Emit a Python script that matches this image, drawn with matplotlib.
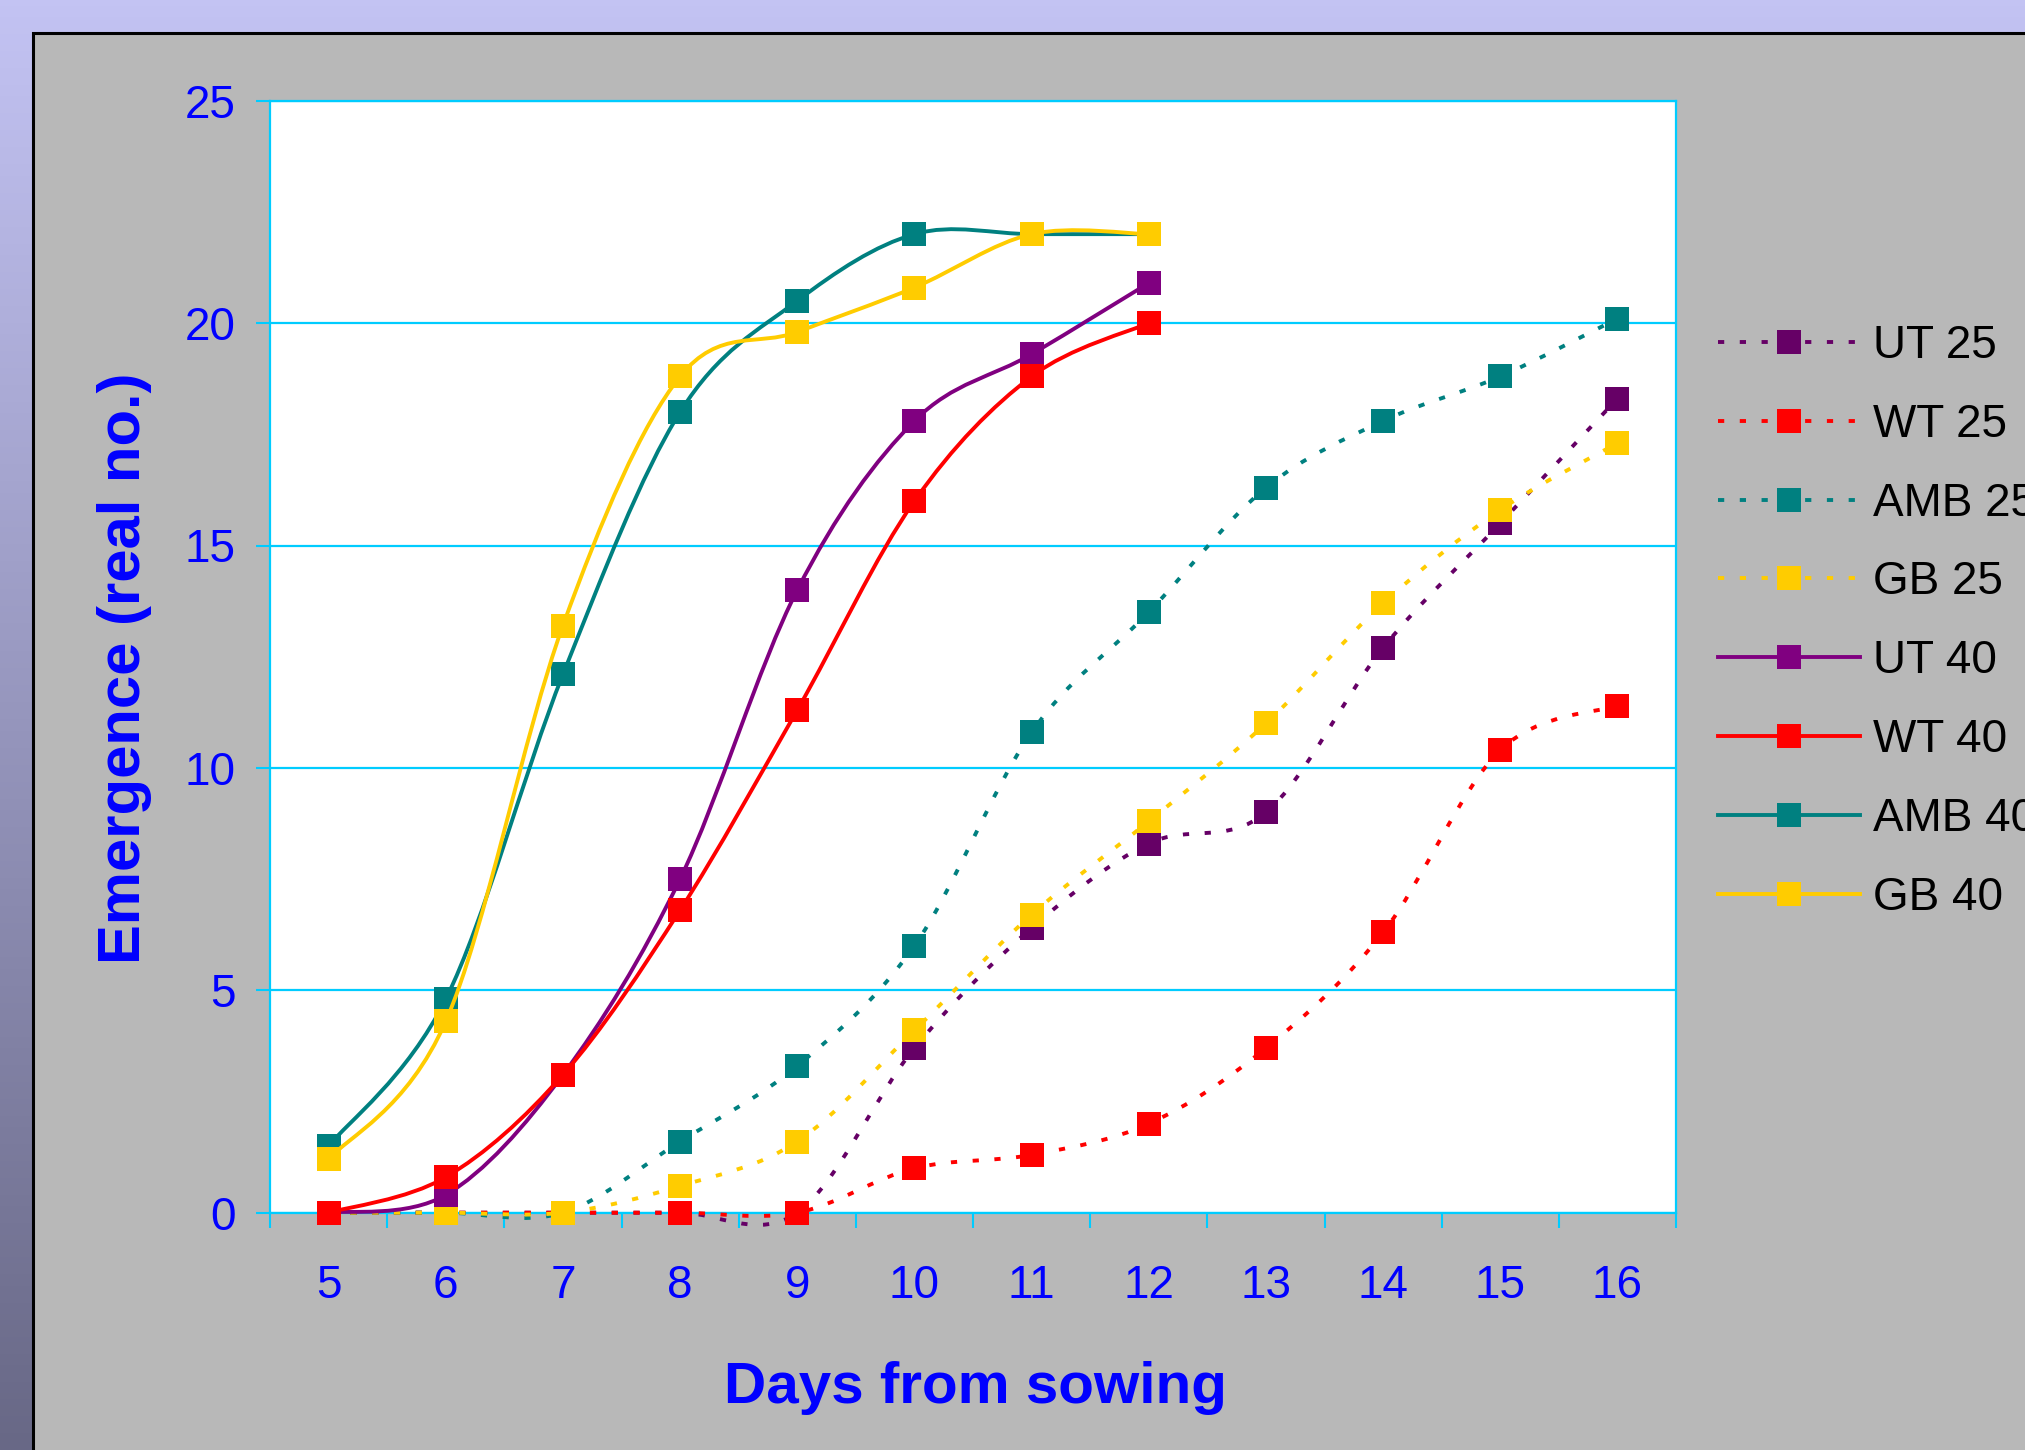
import numpy as np
import matplotlib
matplotlib.use('Agg')
import matplotlib.pyplot as plt
from matplotlib.path import Path
from matplotlib.patches import PathPatch, Rectangle
from matplotlib.lines import Line2D

plt.rcParams['font.family'] = ['Liberation Sans', 'DejaVu Sans']

#%% Data: emergence counts per day from sowing

days = [5, 6, 7, 8, 9, 10, 11, 12, 13, 14, 15, 16]

ut_25 = [0, 0, 0, 0, 0, 3.7, 6.4, 8.3, 9.0, 12.7, 15.5, 18.3]
wt_25 = [0, 0, 0, 0, 0, 1.0, 1.3, 2.0, 3.7, 6.3, 10.4, 11.4]
amb_25 = [0, 0, 0, 1.6, 3.3, 6.0, 10.8, 13.5, 16.3, 17.8, 18.8, 20.1]
gb_25 = [0, 0, 0, 0.6, 1.6, 4.1, 6.7, 8.8, 11.0, 13.7, 15.8, 17.3]

ut_40 = [0, 0.4, 3.1, 7.5, 14.0, 17.8, 19.3, 20.9]
wt_40 = [0, 0.8, 3.1, 6.8, 11.3, 16.0, 18.8, 20.0]
amb_40 = [1.5, 4.8, 12.1, 18.0, 20.5, 22.0, 22.0, 22.0]
gb_40 = [1.2, 4.3, 13.2, 18.8, 19.8, 20.8, 22.0, 22.0]

names = ['UT 25', 'WT 25', 'AMB 25', 'GB 25', 'UT 40', 'WT 40', 'AMB 40', 'GB 40']
series = [ut_25, wt_25, amb_25, gb_25, ut_40, wt_40, amb_40, gb_40]
colors = ['#660066', '#FF0000', '#008080', '#FFCC00',
          '#800080', '#FF0000', '#008080', '#FFCC00']
dotted = (0, (1.6, 4.0))
styles = [dotted] * 4 + ['-'] * 4

lw = 2.8
ms = 17


def smooth_path(x, y):
    # bezier curve through the points, like a "smoothed line" chart
    pts = np.column_stack([x, y]).astype(float)
    n = len(pts)
    verts = [pts[0]]
    codes = [Path.MOVETO]
    for i in range(n - 1):
        p0 = pts[max(i - 1, 0)]
        p1 = pts[i]
        p2 = pts[i + 1]
        p3 = pts[min(i + 2, n - 1)]
        verts += [p1 + (p2 - p0) / 6, p2 - (p3 - p1) / 6, p2]
        codes += [Path.CURVE4] * 3
    return Path(verts, codes)


#%% Figure

fig = plt.figure(figsize=(20.25, 14.5), dpi=100)

# background: lavender gradient with grey panel on top
bg = fig.add_axes([0, 0, 1, 1])
bg.set_zorder(-1)
top_c = np.array([195, 195, 243]) / 255
bot_c = np.array([104, 104, 134]) / 255
t = np.linspace(0, 1, 256)[:, None]
grad = top_c[None, :] * (1 - t) + bot_c[None, :] * t
bg.imshow(grad[:, None, :], aspect='auto', extent=[0, 1, 0, 1])
bg.add_patch(Rectangle((33 / 2025, -0.1), 1.2, 1 - 33 / 1450 + 0.1,
                       facecolor='#B8B8B8', edgecolor='black', lw=2.2))
bg.set_xlim(0, 1)
bg.set_ylim(0, 1)
bg.axis('off')

ax = fig.add_axes([270 / 2025, 1 - 1212.7 / 1450, 1406 / 2025, 1112 / 1450])
ax.set_facecolor('white')

handles = []
for k in range(len(series)):
    y = series[k]
    x = np.arange(len(y))
    z = 3 + 2 * k
    ax.add_patch(PathPatch(smooth_path(x, y), facecolor='none',
                           edgecolor=colors[k], lw=lw, linestyle=styles[k],
                           zorder=z, clip_on=False))
    ax.plot(x, y, linestyle='none', marker='s', ms=ms, mew=0,
            color=colors[k], zorder=z + 1, clip_on=False)
    handles.append(Line2D([], [], color=colors[k], lw=lw, linestyle=styles[k],
                          marker='s', ms=ms, mew=0))

ax.set_xlim(-0.5, 11.5)
ax.set_ylim(0, 25)

grid_c = '#00CCFF'
ax.set_xticks(np.arange(-0.5, 12, 1))
ax.set_xticklabels([])
ax.set_xticks(np.arange(len(days)), minor=True)
ax.set_xticklabels([str(d) for d in days], minor=True)
ax.set_yticks([0, 5, 10, 15, 20, 25])

ax.tick_params(axis='x', which='major', direction='out', length=11,
               width=1.5, color=grid_c)
ax.tick_params(axis='x', which='minor', length=0, pad=37,
               labelsize=33, labelcolor='#0000FF')
ax.tick_params(axis='y', direction='out', length=10, width=1.5,
               color=grid_c, pad=15, labelsize=33, labelcolor='#0000FF')

ax.yaxis.grid(True, color=grid_c, lw=1.6)
ax.set_axisbelow(True)
for s in ['left', 'bottom', 'top', 'right']:
    ax.spines[s].set_color(grid_c)
    ax.spines[s].set_linewidth(1.6)

fig.text(125 / 2025, 1 - 668 / 1450, 'Emergence (real no.)', rotation=90,
         ha='center', va='center', fontsize=43, fontweight='bold', color='#0000FF')
fig.text(975 / 2025, 1 - 1388 / 1450, 'Days from sowing',
         ha='center', va='center', fontsize=42, fontweight='bold', color='#0000FF')

# legend runs off the right edge of the panel
fig.legend(handles, names, loc='upper left',
           bbox_to_anchor=(1718 / 2025, 1 - 324 / 1450),
           frameon=False, fontsize=33, handlelength=3.1, handletextpad=0.28,
           labelspacing=0.76, borderpad=0, borderaxespad=0)

fig.savefig('out.png', dpi=100)
